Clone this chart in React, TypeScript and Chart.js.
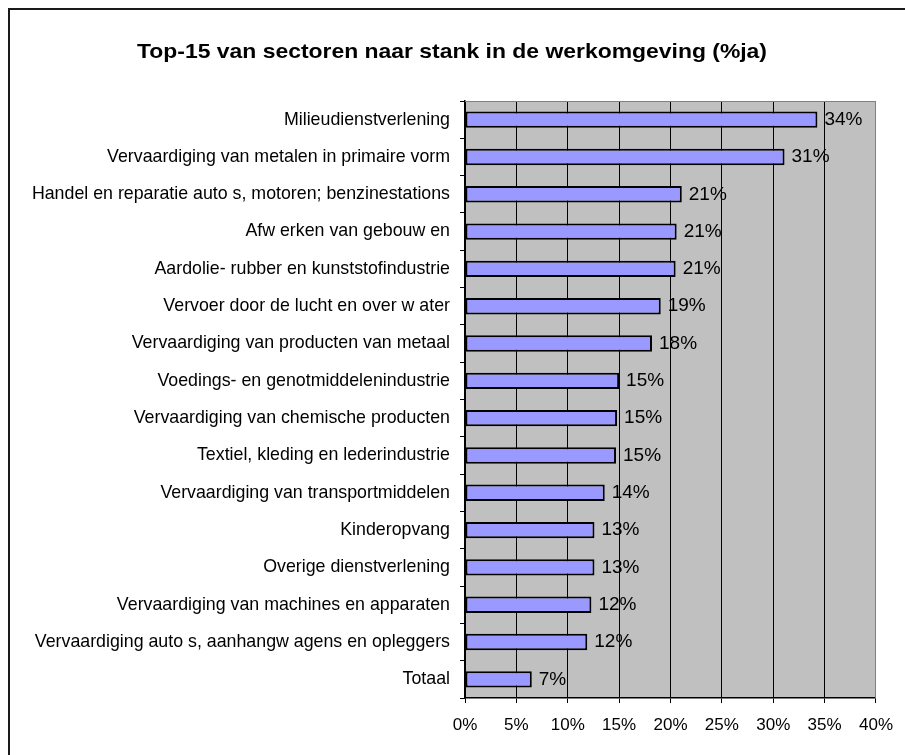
import React, { useEffect, useRef } from "react";
import { Chart, registerables } from "chart.js";

Chart.register(...registerables);

const titleText = "Top-15 van sectoren naar stank in de werkomgeving (%ja)";

const categories = [
  "Milieudienstverlening",
  "Vervaardiging van metalen in primaire vorm",
  "Handel en reparatie auto s, motoren; benzinestations",
  "Afw erken van gebouw en",
  "Aardolie- rubber en kunststofindustrie",
  "Vervoer door de lucht en over w ater",
  "Vervaardiging van producten van metaal",
  "Voedings- en genotmiddelenindustrie",
  "Vervaardiging van chemische producten",
  "Textiel, kleding en lederindustrie",
  "Vervaardiging van transportmiddelen",
  "Kinderopvang",
  "Overige dienstverlening",
  "Vervaardiging van machines en apparaten",
  "Vervaardiging auto s, aanhangw agens en opleggers",
  "Totaal",
];

const values = [34.3, 31.1, 21.1, 20.6, 20.5, 19.05, 18.2, 15.0, 14.8, 14.7, 13.6, 12.6, 12.6, 12.3, 11.9, 6.5];

const valueLabels = ["34%", "31%", "21%", "21%", "21%", "19%", "18%", "15%", "15%", "15%", "14%", "13%", "13%", "12%", "12%", "7%"];

const xTicks = [0, 5, 10, 15, 20, 25, 30, 35, 40];

const FONT = "'Liberation Sans', Arial, sans-serif";

export default function App() {
  const ref = useRef<HTMLCanvasElement | null>(null);

  useEffect(() => {
    const canvas = ref.current;
    if (!canvas) return;

    const bgPlugin = {
      id: "plotBg",
      beforeDraw(chart: any) {
        const { ctx, chartArea } = chart;
        ctx.save();
        ctx.fillStyle = "#C0C0C0";
        ctx.fillRect(chartArea.left, chartArea.top, chartArea.right - chartArea.left, chartArea.bottom - chartArea.top);
        ctx.restore();
      },
      beforeDatasetsDraw(chart: any) {
        const { ctx, chartArea } = chart;
        ctx.save();
        ctx.strokeStyle = "#808080";
        ctx.lineWidth = 1;
        ctx.beginPath();
        ctx.moveTo(chartArea.left, chartArea.top + 0.5);
        ctx.lineTo(chartArea.right - 0.5, chartArea.top + 0.5);
        ctx.lineTo(chartArea.right - 0.5, chartArea.bottom);
        ctx.stroke();
        ctx.restore();
      },
      afterDatasetsDraw(chart: any) {
        const { ctx } = chart;
        const meta = chart.getDatasetMeta(0);
        ctx.save();
        ctx.fillStyle = "#000";
        ctx.font = `19px ${FONT}`;
        ctx.textAlign = "left";
        ctx.textBaseline = "middle";
        meta.data.forEach((el: any, i: number) => {
          ctx.fillText(valueLabels[i], el.x + 7, el.y);
        });
        ctx.restore();
      },
      afterDraw(chart: any) {
        const { ctx } = chart;
        ctx.save();
        ctx.fillStyle = "#000";
        ctx.font = `bold 21px ${FONT}`;
        ctx.textAlign = "center";
        ctx.textBaseline = "alphabetic";
        const w = ctx.measureText(titleText).width;
        const sx = 630 / w;
        ctx.translate(452, 58);
        ctx.scale(sx, 1);
        ctx.fillText(titleText, 0, 0);
        ctx.restore();
      },
    };

    const chart = new Chart(canvas, {
      type: "bar",
      data: {
        labels: categories,
        datasets: [
          {
            data: values,
            backgroundColor: "#9999FF",
            borderColor: "#000000",
            borderWidth: 2,
            borderSkipped: false,
            categoryPercentage: 1,
            barPercentage: 0.44,
          },
        ],
      },
      options: {
        indexAxis: "y",
        responsive: false,
        animation: false,
        maintainAspectRatio: false,
        layout: { padding: { top: 101, right: 29, bottom: 0, left: 0 } },
        plugins: {
          legend: { display: false },
          title: { display: false },
          tooltip: { enabled: false },
        },
        scales: {
          x: {
            type: "linear",
            min: 0,
            max: 40,
            afterBuildTicks(scale: any) {
              scale.ticks = xTicks.map((v) => ({ value: v }));
            },
            afterFit(scale: any) {
              scale.height = 57;
            },
            ticks: {
              color: "#000",
              font: { family: FONT, size: 17 },
              padding: 12,
              callback: (v: any) => `${v}%`,
              maxRotation: 0,
            },
            grid: {
              color: (c: any) => (c.tick && c.tick.value === 40 ? "#808080" : "#000000"),
              tickColor: "#000000",
              tickLength: 5,
              lineWidth: 1,
            },
            border: { color: "#000", width: 1.5 },
          },
          y: {
            type: "category",
            afterFit(scale: any) {
              scale.width = 465;
            },
            ticks: {
              color: "#000",
              font: { family: FONT, size: 17.8 },
              padding: 10,
              autoSkip: false,
            },
            grid: {
              offset: true,
              drawOnChartArea: false,
              color: "#000",
              tickLength: 5,
            },
            border: { color: "#000", width: 1.5 },
          },
        },
      },
      plugins: [bgPlugin],
    });

    return () => chart.destroy();
  }, []);

  return (
    <div style={{ position: "fixed", left: 0, top: 0, width: 905, height: 755, overflow: "hidden", background: "#fff" }}>
      <div
        style={{
          position: "absolute",
          left: 8,
          top: 8,
          width: 1000,
          height: 1000,
          border: "2px solid #1a1a1a",
          boxSizing: "border-box",
        }}
      />
      <canvas ref={ref} width={905} height={755} style={{ position: "absolute", left: 0, top: 0, width: 905, height: 755 }} />
    </div>
  );
}
